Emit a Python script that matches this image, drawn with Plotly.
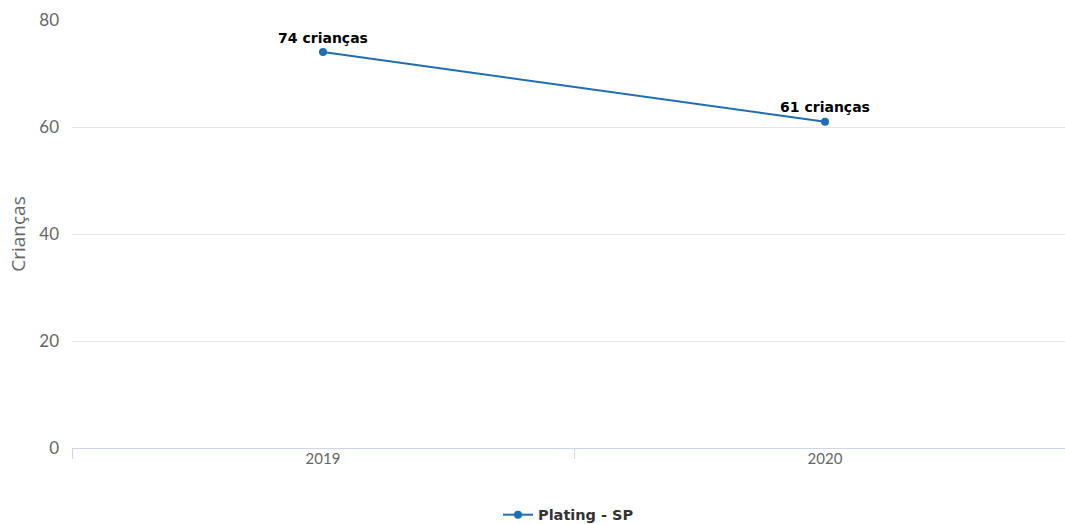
import plotly.graph_objects as go

years = ["2019", "2020"]
values = [74, 61]
labels = ["74 crianças", "61 crianças"]
series_name = "Plating - SP"

fig = go.Figure()
fig.add_trace(go.Scatter(
    x=years, y=values, mode="lines+markers+text", name=series_name,
    text=labels, textposition="top center",
    textfont=dict(family="DejaVu Sans", size=14, color="#000000", weight="bold"),
    line=dict(color="#1f6db3", width=2),
    marker=dict(color="#1f6db3", size=8),
    cliponaxis=False,
))

fig.update_layout(
    width=1065, height=524,
    margin=dict(l=72, r=0, t=20, b=76, autoexpand=False),
    paper_bgcolor="white", plot_bgcolor="white",
    showlegend=True,
    legend=dict(orientation="h", x=0.5, xanchor="center", y=-0.156, yanchor="middle",
                itemwidth=30,
                font=dict(family="DejaVu Sans", size=14.5, color="#333333", weight="bold")),
    font=dict(family="Lato"),
)
fig.update_xaxes(
    type="category", range=[-0.5, 1.478], tickson="boundaries",
    ticks="outside", ticklen=10, tickcolor="#ccd6eb", automargin=False,
    showline=False, showgrid=False, zeroline=False,
    tickfont=dict(size=15, color="#666666"),
)
fig.update_yaxes(
    range=[0, 80], dtick=20, showgrid=True, gridcolor="#e6e6e6",
    zeroline=True, zerolinecolor="#ccd6eb", zerolinewidth=1,
    ticks="", ticklabelstandoff=12, automargin=False,
    tickfont=dict(size=17, color="#666666"),
    title=dict(text="Crianças", font=dict(family="Open Sans", size=19, color="#666666"), standoff=8),
)
fig.write_html(
    "out.html",
    config={"displayModeBar": False},
    post_script="document.body.style.margin='0';document.body.style.overflow='hidden';",
)
